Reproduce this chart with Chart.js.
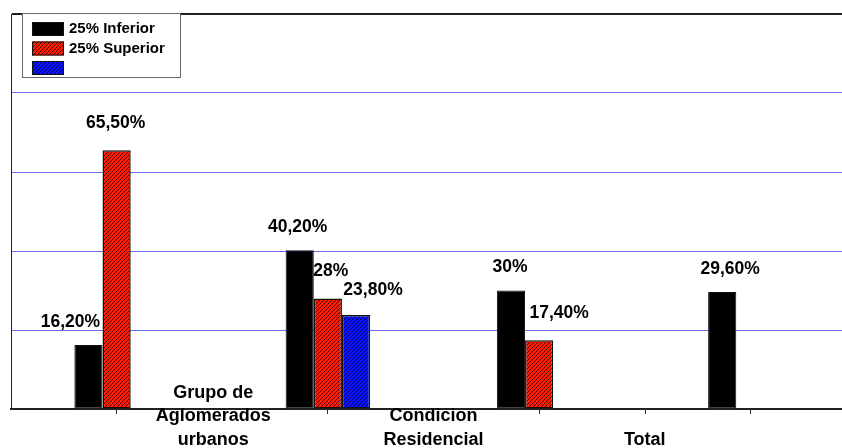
<!DOCTYPE html>
<html>
<head>
<meta charset="utf-8">
<script src="https://cdn.jsdelivr.net/npm/chart.js@4.4.0/dist/chart.umd.min.js"></script>
<style>
  html, body { margin: 0; padding: 0; background: #fff; overflow: hidden; }
  #wrap { position: relative; width: 858px; height: 448px; }
</style>
</head>
<body>
<div id="wrap"><canvas id="ChartGrupos" width="858" height="448"></canvas></div>
<script>
// ---------------- DATA -------------------
const Categorias = ['c1', 'c2', 'c3', 'c4']
const GrupoLabels = [['Grupo de', 'Aglomerados', 'urbanos'], ['Condicion', 'Residencial'], ['Total']]
const Inferior = [16.2, 40.2, 30, 29.6]
const Superior = [65.5, 28, 17.4, null]
const Tercero = [null, 23.8, null, null]
const YTicks = [0, 20, 40, 60, 80, 100]

// hatch pattern for the red / blue bars
function Hatch(fill, line) {
    const c = document.createElement('canvas')
    c.width = 4; c.height = 4
    const g = c.getContext('2d')
    g.fillStyle = fill
    g.fillRect(0, 0, 4, 4)
    g.strokeStyle = line
    g.lineWidth = 1
    g.beginPath()
    g.moveTo(-1, 5); g.lineTo(5, -1)
    g.moveTo(-1, 1); g.lineTo(1, -1)
    g.moveTo(3, 5); g.lineTo(5, 3)
    g.stroke()
    return g.createPattern(c, 'repeat')
}

function FormatPct(v) {
    return Number.isInteger(v) ? v + '%' : v.toFixed(2).replace('.', ',') + '%'
}

const FONT = '"Liberation Sans", Arial, sans-serif'

// value labels over the bars, nudged sideways like the original to avoid overlaps
const barLabels = {
    id: 'barLabels',
    afterDatasetsDraw(chart, args, opts) {
        const ctx = chart.ctx
        ctx.save()
        ctx.font = 'bold 17.5px ' + FONT
        ctx.fillStyle = '#000'
        ctx.textAlign = 'center'
        ctx.textBaseline = 'middle'
        chart.data.datasets.forEach((ds, i) => {
            chart.getDatasetMeta(i).data.forEach((bar, j) => {
                const v = ds.data[j]
                if (v == null) return
                const dx = (opts.nudgeX[i] || [])[j] || 0
                ctx.fillText(FormatPct(v), bar.x + dx, bar.y - opts.lift[i])
            })
        })
        ctx.restore()
    }
}

// category titles, bottom aligned between the groups
const groupTitles = {
    id: 'groupTitles',
    afterDraw(chart, args, opts) {
        const ctx = chart.ctx
        const x = chart.scales.x
        ctx.save()
        ctx.font = 'bold 18px ' + FONT
        ctx.fillStyle = '#000'
        ctx.textAlign = 'center'
        ctx.textBaseline = 'middle'
        GrupoLabels.forEach((lines, i) => {
            const cx = (x.getPixelForValue(i) + x.getPixelForValue(i + 1)) / 2 + (opts.shift[i] || 0)
            lines.forEach((t, k) => {
                ctx.fillText(t, cx, opts.lastLine - (lines.length - 1 - k) * 23.5)
            })
        })
        // small extra tick seen on the original axis
        const tx = Math.round((x.getPixelForValue(2) + x.getPixelForValue(3)) / 2) + 0.5
        ctx.strokeStyle = '#333'
        ctx.lineWidth = 1
        ctx.beginPath()
        ctx.moveTo(tx, chart.chartArea.bottom)
        ctx.lineTo(tx, chart.chartArea.bottom + 5)
        ctx.stroke()
        ctx.restore()
    }
}

// framed legend in the upper left corner of the plot
const boxLegend = {
    id: 'boxLegend',
    afterDraw(chart) {
        const ctx = chart.ctx
        const a = chart.chartArea
        const left = a.left + 11, top = a.top - 1
        ctx.save()
        ctx.fillStyle = '#fff'
        ctx.fillRect(left, top, 158, 64)
        ctx.strokeStyle = '#666'
        ctx.lineWidth = 1
        ctx.strokeRect(left + 0.5, top + 0.5, 158, 64)
        ctx.font = 'bold 15px ' + FONT
        ctx.textBaseline = 'middle'
        chart.data.datasets.forEach((ds, i) => {
            const y = top + 9 + i * 19.5
            ctx.fillStyle = ds.backgroundColor
            ctx.fillRect(left + 10, y, 32, 14)
            ctx.strokeStyle = '#111'
            ctx.strokeRect(left + 10.5, y + 0.5, 31, 13)
            ctx.fillStyle = '#000'
            ctx.fillText(ds.label, left + 47, y + 7)
        })
        ctx.restore()
    }
}

const ctxG = document.getElementById('ChartGrupos').getContext('2d')
new Chart(ctxG, {
    type: 'bar',
    data: {
        labels: Categorias,
        datasets: [{
            label: '25% Inferior',
            data: Inferior,
            backgroundColor: '#000000',
            borderColor: '#111',
            borderWidth: 1,
            borderSkipped: false
        }, {
            label: '25% Superior',
            data: Superior,
            backgroundColor: Hatch('#ff1a00', '#4a0500'),
            borderColor: '#111',
            borderWidth: 1.5,
            borderSkipped: false
        }, {
            label: '',
            data: Tercero,
            backgroundColor: Hatch('#0a14ff', '#00005a'),
            borderColor: '#111',
            borderWidth: 1.5,
            borderSkipped: false
        }]
    },
    options: {
        responsive: false,
        animation: false,
        devicePixelRatio: 1,
        categoryPercentage: 0.4,
        barPercentage: 1.0,
        layout: { padding: { left: 10, top: 14, right: 2, bottom: 0 } },
        plugins: {
            legend: { display: false },
            tooltip: { enabled: false },
            barLabels: {
                nudgeX: [[-18, -2, -1, 8], [-1, 3, 20, 0], [0, 17, 0, 0]],
                lift: [23, 27, 25]
            },
            groupTitles: { shift: [-9, 0, 0], lastLine: 440 }
        },
        scales: {
            x: {
                offset: true,
                afterFit: s => { s.height = 39 },
                ticks: { display: false },
                grid: {
                    offset: false,
                    drawOnChartArea: false,
                    drawTicks: true,
                    tickLength: 5,
                    color: '#333'
                },
                border: { color: '#222', width: 2 }
            },
            y: {
                min: 0,
                max: 100,
                afterFit: s => { s.width = 1 },
                afterBuildTicks: s => { s.ticks = YTicks.map(v => ({ value: v })) },
                ticks: { display: false },
                grid: {
                    drawTicks: false,
                    color: c => c.tick.value === 100 ? '#222' : (c.tick.value === 0 ? 'rgba(0,0,0,0)' : '#6b6bf0'),
                    lineWidth: c => c.tick.value === 100 ? 2 : 1
                },
                border: { color: '#222', width: 1 }
            }
        }
    },
    plugins: [barLabels, groupTitles, boxLegend]
})
</script>
</body>
</html>
